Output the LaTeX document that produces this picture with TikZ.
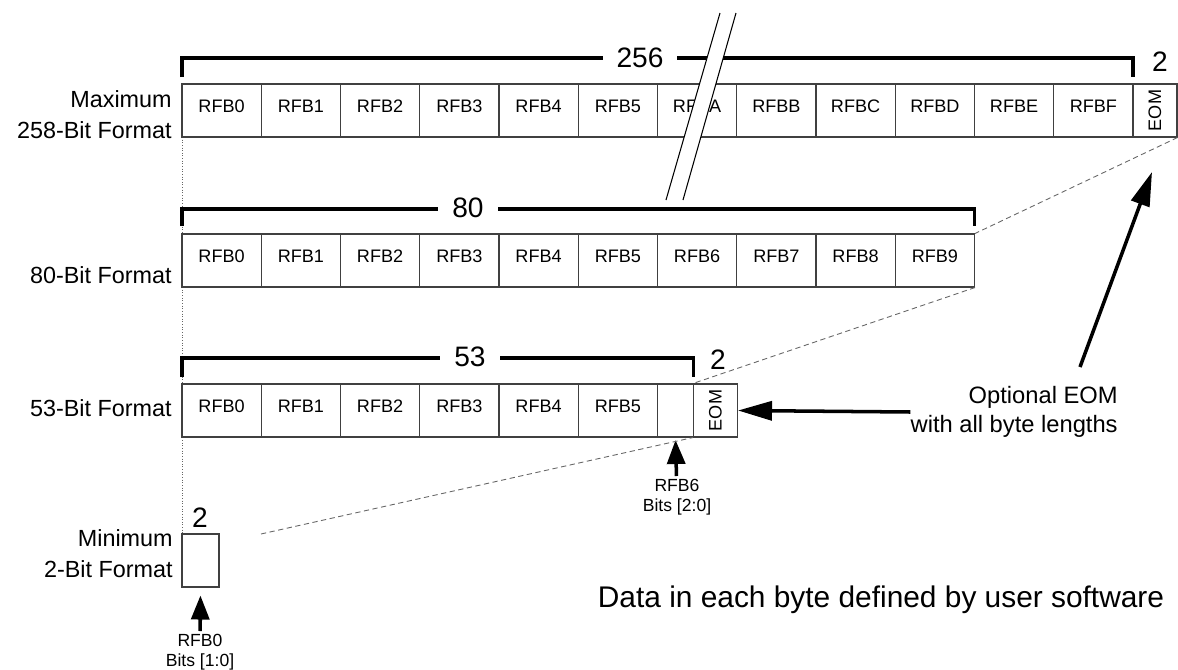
\documentclass[tikz,border=0pt]{standalone}
\usepackage{fontspec}
\setmainfont{Liberation Sans}
\usetikzlibrary{arrows.meta}

\tikzset{
    cell/.style={draw=black!75, line width=0.6pt, minimum width=1.585cm, minimum height=1.06cm,
        inner sep=0pt, text height=0.26cm, text depth=0.2cm, font=\fontsize{10.3}{12}\selectfont},
    eom/.style={cell, minimum width=0.88cm, text height=, text depth=},
    bracket/.style={line width=1.8pt},
    count/.style={fill=white, inner xsep=0.28cm, inner ysep=0pt, font=\fontsize{16}{16}\selectfont},
    size/.style={inner sep=0pt, font=\fontsize{16}{16}\selectfont},
    rowlabel/.style={anchor=east, align=right, inner sep=0pt, font=\fontsize{13.3}{17.6}\selectfont},
    note/.style={align=center, inner sep=1.5pt, font=\fontsize{10}{11.5}\selectfont},
    guide/.style={black!60, line width=0.5pt, densely dotted},
    guide dash/.style={black!60, line width=0.5pt, densely dashed},
    big arrow/.style={-{Triangle[length=0.68cm, width=0.38cm]}, line width=2pt},
    small arrow/.style={-{Triangle[length=0.48cm, width=0.36cm]}, line width=2pt}
}

\begin{document}
\begin{tikzpicture}[x=0.02cm, y=-0.02cm]
        \useasboundingbox (0,0) rectangle (1178,670);

        \draw[guide] (182,137) -- (182,534);

        % maximum format
        \node (1-0) at (221.6, 110.5) [cell] {RFB0};
        \node (1-1) at (300.9, 110.5) [cell] {RFB1};
        \node (1-2) at (380.1, 110.5) [cell] {RFB2};
        \node (1-3) at (459.4, 110.5) [cell] {RFB3};
        \node (1-4) at (538.6, 110.5) [cell] {RFB4};
        \node (1-5) at (617.9, 110.5) [cell] {RFB5};
        \node (1-6) at (697.1, 110.5) [cell] {RFBA};
        \node (1-7) at (776.4, 110.5) [cell] {RFBB};
        \node (1-8) at (855.6, 110.5) [cell] {RFBC};
        \node (1-9) at (934.9, 110.5) [cell] {RFBD};
        \node (1-10) at (1014.1, 110.5) [cell] {RFBE};
        \node (1-11) at (1093.4, 110.5) [cell] {RFBF};
        \node (1-e) at (1155, 110.5) [eom] {\rotatebox{90}{EOM}};

        \draw[bracket] (182,77) -- (182,58) -- (1133,58) -- (1133,77);
        \node (n256) at (640,58) [count] {256};
        \node (n1-2) at (1160,62) [size] {2};
        \node (max) at (172,115) [rowlabel] {Maximum\\258-Bit Format};

        % 80 bit format
        \node (2-0) at (221.6, 260.5) [cell] {RFB0};
        \node (2-1) at (300.9, 260.5) [cell] {RFB1};
        \node (2-2) at (380.1, 260.5) [cell] {RFB2};
        \node (2-3) at (459.4, 260.5) [cell] {RFB3};
        \node (2-4) at (538.6, 260.5) [cell] {RFB4};
        \node (2-5) at (617.9, 260.5) [cell] {RFB5};
        \node (2-6) at (697.1, 260.5) [cell] {RFB6};
        \node (2-7) at (776.4, 260.5) [cell] {RFB7};
        \node (2-8) at (855.6, 260.5) [cell] {RFB8};
        \node (2-9) at (934.9, 260.5) [cell] {RFB9};

        \draw[bracket] (182,226) -- (182,209) -- (974.5,209) -- (974.5,226);
        \node (n80) at (468,208) [count] {80};
        \node (fmt80) at (172,275) [rowlabel] {80-Bit Format};

        % 53 bit format
        \node (3-0) at (221.6, 410.5) [cell] {RFB0};
        \node (3-1) at (300.9, 410.5) [cell] {RFB1};
        \node (3-2) at (380.1, 410.5) [cell] {RFB2};
        \node (3-3) at (459.4, 410.5) [cell] {RFB3};
        \node (3-4) at (538.6, 410.5) [cell] {RFB4};
        \node (3-5) at (617.9, 410.5) [cell] {RFB5};
        \node (3-6) at (675.5, 410.5) [cell, minimum width=0.72cm] {};
        \node (3-e) at (715.5, 410.5) [eom] {\rotatebox{90}{EOM}};

        \draw[bracket] (182,377) -- (182,358) -- (693.5,358) -- (693.5,377);
        \node (n53) at (470,357) [count] {53};
        \node (n3-2) at (718,360) [size] {2};
        \node (fmt53) at (172,408) [rowlabel] {53-Bit Format};

        \node (rfb6) at (677,476) [note, anchor=north] {RFB6\\Bits [2:0]};
        \draw[small arrow, shorten >=0.05cm] (rfb6) -- (3-6.south);

        % minimum format
        \node (4-0) at (200.5, 560.5) [cell, minimum width=0.74cm] {};
        \node (n4-2) at (200,518) [size] {2};
        \node (fmtmin) at (173,553.5) [rowlabel] {Minimum\\2-Bit Format};

        \node (rfb0) at (200,631) [note, anchor=north] {RFB0\\Bits [1:0]};
        \draw[small arrow, shorten >=0.16cm] (rfb0) -- (4-0.south);

        % break in the long format
        \fill[white] (720,13) -- (736,13) -- (683,200) -- (666,200) -- cycle;
        \draw[line width=0.6pt] (720,13) -- (666,200);
        \draw[line width=0.6pt] (736,13) -- (683,200);

        % dashed guides between the formats
        \coordinate (mintail) at (261,534);
        \draw[guide dash] (1-e.south east) -- (2-9.north east);
        \draw[guide dash] (2-9.south east) -- (3-e.north west);
        \draw[guide dash] (mintail) -- (3-e.south west);

        % optional EOM
        \node (opt) at (1118,412) [rowlabel, font=\fontsize{13.5}{16.5}\selectfont] {Optional EOM\\with all byte lengths};
        \coordinate (opttail) at (1080,367);
        \coordinate (eomtip) at (1152,172);
        \draw[big arrow] (opt.west) -- (3-e.east);
        \draw[big arrow] (opttail) -- (eomtip);

        \node (data) at (881,600) [font=\fontsize{17}{20}\selectfont] {Data in each byte defined by user software};

    \end{tikzpicture}
\end{document}
